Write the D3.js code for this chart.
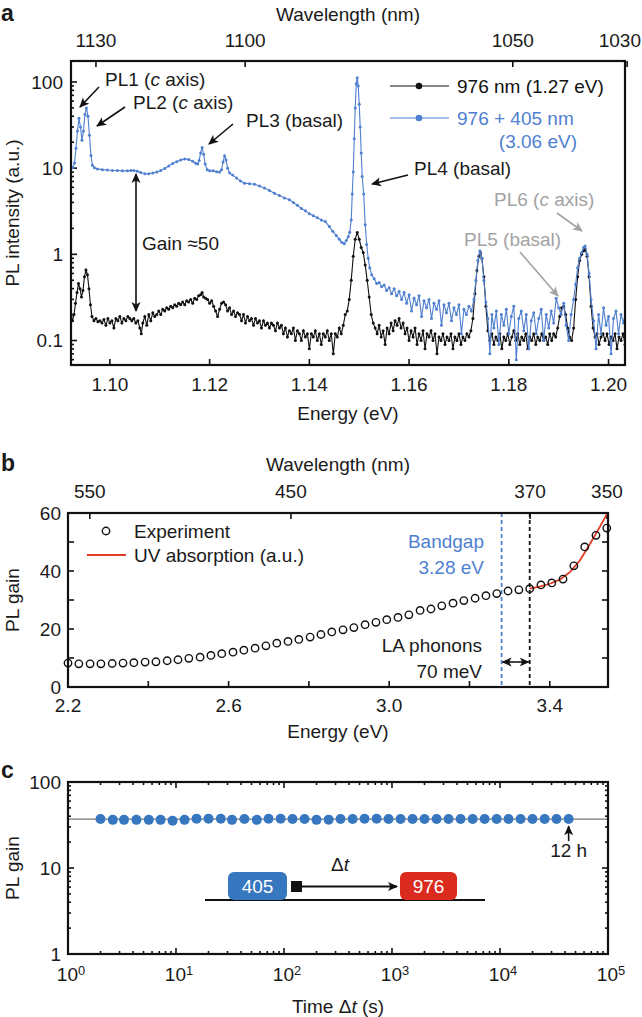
<!DOCTYPE html>
<html><head><meta charset="utf-8">
<script src="https://cdn.jsdelivr.net/npm/d3@7"></script>
<style>body{margin:0;background:#fff}svg{display:block}text{font-family:"Liberation Sans",Arial,Helvetica,sans-serif;fill:#1a1a1a}</style>
</head><body><svg id="chart" width="642" height="1017"></svg>
<script>
// ---------- Panel a data ----------
const blueSpec = [[1.0922,10.0],[1.0926,10.2],[1.0929,11.5],[1.0932,17],[1.0935,27],[1.0938,38],[1.0941,30],[1.0944,21],[1.0947,27],[1.0950,42],[1.0953,50],[1.0956,40],[1.0959,24],[1.0962,14],[1.0965,10.8],[1.0969,10.1],[1.0975,9.8],[1.0985,9.6],[1.0995,9.5],[1.1005,9.4],[1.1015,9.4],[1.1025,9.3],[1.1035,9.3],[1.1042,9.4],[1.1048,9.4],[1.1055,9.2],[1.1062,8.9],[1.1070,8.6],[1.1078,8.6],[1.1086,8.8],[1.1094,9.0],[1.1102,9.4],[1.1110,9.9],[1.1118,10.6],[1.1126,11.3],[1.1134,11.9],[1.1142,12.4],[1.1150,12.8],[1.1158,12.6],[1.1166,12.0],[1.1172,11.4],[1.1176,11.2],[1.1179,12.3],[1.1182,15],[1.1185,17.3],[1.1188,14.5],[1.1191,11.2],[1.1195,9.6],[1.1200,9.3],[1.1207,9.3],[1.1214,9.1],[1.1220,9.0],[1.1224,9.6],[1.1227,11.8],[1.1230,13.9],[1.1233,12.4],[1.1236,10],[1.1240,8.8],[1.1246,8.3],[1.1254,7.7],[1.1262,7.1],[1.1270,6.7],[1.1280,6.6],[1.1290,6.5],[1.1300,6.2],[1.1310,5.9],[1.1320,5.5],[1.1330,5.1],[1.1340,4.8],[1.1350,4.5],[1.1360,4.3],[1.1368,4.0],[1.1376,3.7],[1.1384,3.4],[1.1392,3.2],[1.1400,2.95],[1.1408,2.8],[1.1416,2.65],[1.1424,2.5],[1.1432,2.4],[1.1440,2.1],[1.1447,1.85],[1.1454,1.65],[1.1460,1.5],[1.1465,1.38],[1.1470,1.33],[1.1474,1.45],[1.1478,1.6],[1.1481,1.8],[1.1484,2.5],[1.1486,5],[1.1488,9],[1.1490,22],[1.1492,50],[1.1494,95],[1.1496,112],[1.1498,90],[1.1500,55],[1.1502,30],[1.1504,15],[1.1506,8],[1.1509,5],[1.1512,2.2],[1.1515,1.3],[1.1518,0.9],[1.1521,0.7],
[1.1525,0.58],[1.1530,0.52],[1.1535,0.46],[1.1540,0.47],[1.1545,0.42],[1.1550,0.44],[1.1555,0.38],[1.1560,0.41],[1.1565,0.35],[1.1570,0.40],[1.1575,0.33],[1.1580,0.37],[1.1585,0.30],[1.1590,0.36],[1.1595,0.27],[1.1600,0.34],[1.1605,0.22],[1.1610,0.31],[1.1615,0.26],[1.1620,0.33],[1.1625,0.19],[1.1630,0.29],[1.1635,0.24],[1.1640,0.30],[1.1645,0.18],[1.1650,0.27],[1.1655,0.23],[1.1660,0.29],[1.1665,0.15],[1.1670,0.26],[1.1675,0.21],[1.1680,0.27],[1.1685,0.17],[1.1690,0.24],[1.1695,0.20],[1.1700,0.26],[1.1705,0.12],[1.1710,0.23],[1.1715,0.20],[1.1720,0.25],[1.1725,0.22],[1.1730,0.3],[1.1734,0.5],[1.1738,0.85],[1.1742,1.1],[1.1746,0.9],[1.1750,0.5],[1.1754,0.28],[1.1758,0.18],[1.1762,0.07],[1.1766,0.2],[1.1770,0.14],[1.1775,0.22],[1.1780,0.09],[1.1785,0.2],[1.1790,0.15],[1.1795,0.23],[1.1800,0.12],[1.1805,0.19],[1.1810,0.25],[1.1815,0.06],[1.1820,0.18],[1.1825,0.22],[1.1830,0.13],[1.1835,0.2],[1.1840,0.08],[1.1845,0.17],[1.1850,0.21],[1.1855,0.12],[1.1860,0.18],[1.1865,0.23],[1.1870,0.1],[1.1875,0.2],[1.1880,0.14],[1.1885,0.22],[1.1890,0.16],[1.1895,0.31],[1.1900,0.24],[1.1905,0.2],[1.1910,0.27],[1.1915,0.15],[1.1920,0.1],[1.1925,0.2],[1.1930,0.3],[1.1934,0.45],[1.1938,0.7],[1.1942,0.9],[1.1946,1.05],[1.1950,1.2],[1.1953,1.25],[1.1957,1.0],[1.1961,0.6],[1.1965,0.3],[1.1970,0.17],[1.1975,0.08],[1.1980,0.2],[1.1985,0.12],[1.1990,0.24],[1.1995,0.15],[1.2000,0.19],[1.2005,0.07],[1.2010,0.18],[1.2015,0.22],[1.2020,0.12],[1.2025,0.2],[1.2030,0.16],[1.2035,0.24]];

const blackSpec = [[1.0922,0.19],[1.0925,0.17],[1.0928,0.2],[1.0931,0.27],[1.0934,0.36],[1.0937,0.46],[1.0940,0.40],[1.0943,0.32],[1.0946,0.38],[1.0949,0.55],[1.0952,0.66],[1.0955,0.58],[1.0958,0.4],[1.0961,0.26],[1.0964,0.19],[1.0968,0.17],[1.0972,0.18],[1.0976,0.165],[1.0980,0.17],[1.0984,0.16],[1.0988,0.175],[1.0992,0.15],[1.0996,0.18],[1.1000,0.16],[1.1004,0.17],[1.1008,0.14],[1.1012,0.18],[1.1016,0.17],[1.1020,0.19],[1.1024,0.16],[1.1028,0.18],[1.1032,0.17],[1.1036,0.19],[1.1040,0.18],[1.1044,0.17],[1.1048,0.18],[1.1052,0.16],[1.1056,0.17],[1.1060,0.14],[1.1063,0.12],[1.1066,0.16],[1.1070,0.19],[1.1074,0.15],[1.1078,0.2],[1.1082,0.17],[1.1086,0.21],[1.1090,0.19],[1.1094,0.2],[1.1098,0.22],[1.1102,0.2],[1.1106,0.23],[1.1110,0.22],[1.1114,0.24],[1.1118,0.23],[1.1122,0.25],[1.1126,0.24],[1.1130,0.26],[1.1134,0.25],[1.1138,0.27],[1.1142,0.26],[1.1146,0.28],[1.1150,0.26],[1.1154,0.29],[1.1158,0.28],[1.1162,0.3],[1.1166,0.27],[1.1170,0.31],[1.1174,0.3],[1.1178,0.33],[1.1182,0.34],[1.1185,0.36],[1.1188,0.32],[1.1192,0.31],[1.1196,0.3],[1.1200,0.27],[1.1204,0.29],[1.1208,0.25],[1.1212,0.22],[1.1216,0.19],[1.1220,0.23],[1.1224,0.27],[1.1228,0.28],[1.1232,0.26],[1.1236,0.22],[1.1240,0.24],[1.1244,0.2],[1.1248,0.22],[1.1252,0.19],[1.1256,0.21],[1.1260,0.2],[1.1264,0.17],[1.1268,0.2],[1.1272,0.16],[1.1276,0.19],[1.1280,0.17],[1.1284,0.18],[1.1288,0.15],[1.1292,0.18],[1.1296,0.16],[1.1300,0.17],[1.1304,0.14],[1.1308,0.17],[1.1312,0.15],[1.1316,0.16],[1.1320,0.14],[1.1324,0.16],[1.1328,0.15],[1.1332,0.13],[1.1336,0.16],[1.1340,0.14],[1.1344,0.15],[1.1348,0.12],[1.1352,0.14],[1.1356,0.11],[1.1360,0.13],[1.1364,0.12],[1.1368,0.14],[1.1372,0.1],[1.1376,0.13],[1.1380,0.12],[1.1384,0.1],[1.1388,0.13],[1.1392,0.11],[1.1396,0.12],[1.1400,0.08],[1.1404,0.12],[1.1408,0.11],[1.1412,0.13],[1.1416,0.1],[1.1420,0.12],[1.1424,0.09],[1.1428,0.12],[1.1432,0.11],[1.1436,0.13],[1.1440,0.1],[1.1444,0.12],[1.1448,0.07],[1.1452,0.12],[1.1456,0.11],[1.1460,0.14],[1.1464,0.12],[1.1468,0.15],[1.1472,0.2],[1.1476,0.22],[1.1480,0.3],[1.1484,0.5],[1.1488,0.95],[1.1492,1.5],[1.1496,1.79],[1.1500,1.5],[1.1504,1.2],[1.1508,1.05],[1.1512,0.75],[1.1516,0.5],[1.1520,0.32],[1.1524,0.2],[1.1528,0.16],[1.1532,0.14],[1.1536,0.12],[1.1540,0.15],[1.1544,0.11],[1.1548,0.13],[1.1552,0.09],[1.1556,0.14],[1.1560,0.12],[1.1564,0.16],[1.1568,0.13],[1.1572,0.17],[1.1576,0.15],[1.1580,0.18],[1.1584,0.14],[1.1588,0.16],[1.1592,0.12],[1.1596,0.14],[1.1600,0.1],[1.1604,0.13],[1.1608,0.11],[1.1612,0.14],[1.1616,0.09],[1.1620,0.12],[1.1624,0.1],[1.1628,0.13],[1.1632,0.08],[1.1636,0.12],[1.1640,0.11],[1.1644,0.13],[1.1648,0.1],[1.1652,0.12],[1.1656,0.07],[1.1660,0.11],[1.1664,0.1],[1.1668,0.12],[1.1672,0.09],[1.1676,0.11],[1.1680,0.1],[1.1684,0.12],[1.1688,0.08],[1.1692,0.11],[1.1696,0.1],[1.1700,0.12],[1.1704,0.09],[1.1708,0.11],[1.1712,0.1],[1.1716,0.12],[1.1720,0.11],[1.1724,0.13],[1.1728,0.18],[1.1732,0.35],[1.1736,0.65],[1.1740,0.95],[1.1743,1.05],[1.1746,0.9],[1.1750,0.55],[1.1754,0.25],[1.1758,0.13],[1.1762,0.1],[1.1766,0.12],[1.1770,0.09],[1.1774,0.11],[1.1778,0.1],[1.1782,0.12],[1.1786,0.08],[1.1790,0.11],[1.1794,0.1],[1.1798,0.12],[1.1802,0.09],[1.1806,0.11],[1.1810,0.13],[1.1814,0.1],[1.1818,0.12],[1.1822,0.09],[1.1826,0.11],[1.1830,0.1],[1.1834,0.12],[1.1838,0.08],[1.1842,0.11],[1.1846,0.1],[1.1850,0.12],[1.1854,0.09],[1.1858,0.11],[1.1862,0.1],[1.1866,0.12],[1.1870,0.1],[1.1874,0.11],[1.1878,0.09],[1.1882,0.12],[1.1886,0.1],[1.1890,0.12],[1.1894,0.11],[1.1898,0.14],[1.1902,0.19],[1.1906,0.24],[1.1910,0.25],[1.1914,0.2],[1.1918,0.14],[1.1922,0.11],[1.1926,0.1],[1.1930,0.14],[1.1934,0.3],[1.1938,0.55],[1.1942,0.85],[1.1946,1.0],[1.1950,1.1],[1.1953,1.15],[1.1957,0.95],[1.1961,0.55],[1.1965,0.25],[1.1969,0.14],[1.1973,0.11],[1.1977,0.12],[1.1981,0.09],[1.1985,0.11],[1.1989,0.12],[1.1993,0.1],[1.1997,0.12],[1.2001,0.09],[1.2005,0.11],[1.2009,0.1],[1.2013,0.12],[1.2017,0.08],[1.2021,0.11],[1.2025,0.1],[1.2029,0.12],[1.2033,0.09]];

const aEnergyTicks = [1.10, 1.12, 1.14, 1.16, 1.18, 1.20];
const aWaveTicks = [1130, 1100, 1050, 1030];
const aYTicks = [0.1, 1, 10, 100];
const aLegend = ["976 nm (1.27 eV)", "976 + 405 nm", "(3.06 eV)"];

// ---------- Panel b data ----------
const bEnergy = [2.200,2.227,2.255,2.282,2.310,2.337,2.364,2.392,2.419,2.447,2.474,2.501,2.529,2.556,2.583,2.611,2.638,2.666,2.693,2.720,2.748,2.775,2.803,2.830,2.857,2.885,2.912,2.940,2.967,2.994,3.022,3.049,3.077,3.104,3.131,3.159,3.186,3.214,3.241,3.268,3.296,3.323,3.350,3.378,3.405,3.433,3.460,3.487,3.515,3.542];
const bGain = [8.25,8.0,8.0,8.0,8.1,8.25,8.4,8.6,8.7,9.05,9.4,9.9,10.3,10.9,11.5,12.0,12.7,13.4,14.2,15.1,15.7,16.4,17.2,18.1,19.0,19.7,20.5,21.5,22.3,23.2,24.0,24.9,26.4,26.9,28.0,28.9,29.8,30.6,31.5,32.2,33.1,33.5,33.9,35.2,35.9,37.2,41.8,48.3,52.3,54.8];
const uvEnergy = [3.350,3.375,3.400,3.425,3.450,3.475,3.500,3.525,3.550];
const uvAbs = [33.9,34.6,35.6,37.0,39.6,43.6,49.3,55.3,61.5];
const bEnergyTicks = [2.2,2.4,2.6,2.8,3.0,3.2,3.4];
const bEnergyLabels = [2.2,2.6,3.0,3.4];
const bWaveTicks = [550,450,370,350];
const bYTicks = [0,10,20,30,40,50,60];
const bYLabels = [0,20,40,60];
const bandgapE = 3.28, edgeE = 3.35;

// ---------- Panel c data ----------
const cTime = [2,2.6,3.3,4.3,5.6,7.2,9.3,12,15.5,20,26,33,43,56,72,93,120,155,200,259,334,432,557,720,930,1200,1550,2000,2590,3340,4320,5580,7210,9310,12000,15500,20000,25900,33400,43200];
const cGain = [37.2,36.3,36.3,36.3,36.3,36.3,35.5,36.3,37.5,37.5,37.3,36.3,37.2,36.3,37.3,37.3,37.2,37.2,36.3,36.5,37.2,37.2,37.3,37.3,37.2,37.2,37.2,37.2,37.2,37.2,37.2,37.2,37.2,37.2,37.2,37.2,37.2,37.2,37.2,37.2];
const cLevel = 37;
const cXTicks = [0,1,2,3,4,5];
const cYTicks = [1,10,100];

// ---------- drawing ----------
const svg = d3.select("#chart");
const BLUE = "#4f7fcf", GREY = "#a3a3a3", FS = 19;
const hc = 1239.84;

const defs = svg.append("defs");
function mk(id, color){
  defs.append("marker").attr("id", id).attr("viewBox","0 0 10 10").attr("refX",9).attr("refY",5)
    .attr("markerWidth",10).attr("markerHeight",10).attr("markerUnits","userSpaceOnUse").attr("orient","auto-start-reverse")
    .append("path").attr("d","M0,0.5 L10,5 L0,9.5 L2.5,5 Z").attr("fill",color);
}
mk("ab","#111"); mk("ag",GREY);

function txt(g,x,y,s,opt={}){
  const t = g.append("text").attr("x",x).attr("y",y).attr("dy","0.35em")
    .attr("font-size",opt.fs||FS).attr("text-anchor",opt.anchor||"start");
  if(opt.fill) t.style("fill",opt.fill);
  if(opt.weight) t.attr("font-weight",opt.weight);
  if(Array.isArray(s)) s.forEach(p=>{ const ts=t.append("tspan").text(p.t); if(p.i) ts.attr("font-style","italic"); if(p.sup) ts.attr("dy","-0.45em").attr("font-size",(opt.fs||FS)*0.68);});
  else t.text(s);
  return t;
}
function arrow(g,x1,y1,x2,y2,color,both){
  const l = g.append("line").attr("x1",x1).attr("y1",y1).attr("x2",x2).attr("y2",y2)
    .attr("stroke",color==="g"?GREY:"#111").attr("stroke-width",1.6)
    .attr("marker-end", `url(#${color==="g"?"ag":"ab"})`);
  if(both) l.attr("marker-start", `url(#${color==="g"?"ag":"ab"})`);
}
function frame(x0,x1,y0,y1){
  svg.append("rect").attr("x",x0).attr("y",y0).attr("width",x1-x0).attr("height",y1-y0)
    .attr("fill","none").attr("stroke","#111").attr("stroke-width",2.2);
}
function ticksY(g, y, vals, x, len, dir){
  vals.forEach(v=>g.append("line").attr("x1",x).attr("x2",x+dir*len).attr("y1",y(v)).attr("y2",y(v)).attr("stroke","#111").attr("stroke-width",1.6));
}
function ticksX(g, x, vals, y, len, dir){
  vals.forEach(v=>g.append("line").attr("y1",y).attr("y2",y+dir*len).attr("x1",x(v)).attr("x2",x(v)).attr("stroke","#111").attr("stroke-width",1.6));
}
function logMinor(lo,hi){ const out=[]; for(let e=Math.floor(Math.log10(lo));e<=Math.ceil(Math.log10(hi));e++) for(let m=2;m<=9;m++){const v=m*Math.pow(10,e); if(v>lo&&v<hi) out.push(v);} return out; }
function keepInside(t){ const w=t.node().getComputedTextLength(); const x=+t.attr("x"); if(x+w/2>641) t.attr("x",641-w/2); }

// ===== Panel a =====
const A = {l:71, r:625, t:61, b:365};
const xA = d3.scaleLinear().domain([1.0922,1.2033]).range([A.l,A.r]);
const yA = d3.scaleLog().domain([0.052,175]).range([A.b,A.t]);
const ga = svg.append("g");
txt(ga,1,13,"a",{fs:23,weight:"bold"});
txt(ga,(A.l+A.r)/2,14,"Wavelength (nm)",{anchor:"middle"});
aWaveTicks.forEach(w=>keepInside(txt(ga,xA(hc/w),40,String(w),{anchor:"middle"})));
ticksX(ga, v=>xA(hc/v), aWaveTicks, A.t, 6, 1);
ticksX(ga, xA, aEnergyTicks, A.b, 6, -1);
aEnergyTicks.forEach(v=>txt(ga,xA(v),384,v.toFixed(2),{anchor:"middle"}));
txt(ga,(A.l+A.r)/2,413,"Energy (eV)",{anchor:"middle"});
ticksY(ga,yA,aYTicks,A.l,6,1);
ticksY(ga,yA,logMinor(0.052,175),A.l,3,1);
aYTicks.forEach(v=>txt(ga,A.l-8,yA(v),String(v),{anchor:"end"}));
txt(ga,0,0,"PL intensity (a.u.)",{anchor:"middle"}).attr("transform",`translate(12,${(A.t+A.b)/2}) rotate(-90)`);

defs.append("clipPath").attr("id","clipA").append("rect").attr("x",A.l).attr("y",A.t).attr("width",A.r-A.l).attr("height",A.b-A.t);
const plotA = ga.append("g").attr("clip-path","url(#clipA)");
const lineA = d3.line().x(d=>xA(d[0])).y(d=>yA(d[1]));
[[blackSpec,"#111"],[blueSpec,BLUE]].forEach(([data,col])=>{
  plotA.append("path").attr("d",lineA(data)).attr("fill","none").attr("stroke",col).attr("stroke-width",1.1);
  plotA.selectAll(null).data(data).enter().append("circle").attr("cx",d=>xA(d[0])).attr("cy",d=>yA(d[1])).attr("r",1.5).attr("fill",col);
});
frame(A.l,A.r,A.t,A.b);

// legend a
[[86,"#111",aLegend[0]],[118,BLUE,aLegend[1]]].forEach(([y,c,s])=>{
  ga.append("line").attr("x1",390).attr("x2",449).attr("y1",y).attr("y2",y).attr("stroke",c).attr("stroke-width",1.2);
  ga.append("circle").attr("cx",419).attr("cy",y).attr("r",3.3).attr("fill",c);
  txt(ga,457,y,s,{fill:c});
});
txt(ga,577,141,aLegend[2],{fill:BLUE,anchor:"end"});

// annotations a
txt(ga,105,79,[{t:"PL1 ("},{t:"c",i:1},{t:" axis)"}]);
arrow(ga,99,87,80,107);
txt(ga,133,102,[{t:"PL2 ("},{t:"c",i:1},{t:" axis)"}]);
arrow(ga,125,107,97,126);
txt(ga,246,120,"PL3 (basal)");
arrow(ga,233,124,209,144);
txt(ga,414,168,"PL4 (basal)");
arrow(ga,408,175,372,184);
txt(ga,142,243,"Gain ≈50");
arrow(ga,136,243,136,174); arrow(ga,136,243,136,311);
txt(ga,494,199,[{t:"PL6 ("},{t:"c",i:1},{t:" axis)"}],{fill:GREY});
arrow(ga,557,213,582,231,"g");
txt(ga,464,239,"PL5 (basal)",{fill:GREY});
arrow(ga,520,252,558,296,"g");

// ===== Panel b =====
const B = {l:68, r:608, t:513, b:687};
const xB = d3.scaleLinear().domain([2.2,3.545]).range([B.l,B.r]);
const yB = d3.scaleLinear().domain([0,60]).range([B.b,B.t]);
const gb = svg.append("g");
txt(gb,1,463,"b",{fs:23,weight:"bold"});
txt(gb,(B.l+B.r)/2,464,"Wavelength (nm)",{anchor:"middle"});
bWaveTicks.forEach(w=>txt(gb,xB(hc/w),491,String(w),{anchor:"middle"}));
ticksX(gb, v=>xB(hc/v), bWaveTicks, B.t, 6, 1);
ticksX(gb, xB, bEnergyTicks, B.b, 6, -1);
bEnergyLabels.forEach(v=>txt(gb,xB(v),705,v.toFixed(1),{anchor:"middle"}));
txt(gb,(B.l+B.r)/2,731,"Energy (eV)",{anchor:"middle"});
ticksY(gb,yB,bYTicks,B.l,6,1);
ticksY(gb,yB,bYTicks,B.r,6,-1);
bYLabels.forEach(v=>txt(gb,B.l-7,yB(v),String(v),{anchor:"end"}));
txt(gb,0,0,"PL gain",{anchor:"middle"}).attr("transform",`translate(12,${(B.t+B.b)/2}) rotate(-90)`);
defs.append("clipPath").attr("id","clipB").append("rect").attr("x",B.l).attr("y",B.t).attr("width",B.r-B.l).attr("height",B.b-B.t);
gb.append("line").attr("x1",xB(bandgapE)).attr("x2",xB(bandgapE)).attr("y1",B.t).attr("y2",B.b).attr("stroke",BLUE).attr("stroke-width",1.8).attr("stroke-dasharray","4,3");
gb.append("line").attr("x1",xB(edgeE)).attr("x2",xB(edgeE)).attr("y1",B.t).attr("y2",B.b).attr("stroke","#111").attr("stroke-width",1.8).attr("stroke-dasharray","4,3");
gb.append("path").attr("clip-path","url(#clipB)").attr("d",d3.line().x((d,i)=>xB(uvEnergy[i])).y(d=>yB(d))(uvAbs)).attr("fill","none").attr("stroke","#e03a22").attr("stroke-width",1.8);
gb.selectAll(null).data(bGain).enter().append("circle").attr("cx",(d,i)=>xB(bEnergy[i])).attr("cy",d=>yB(d)).attr("r",3.7).attr("fill","none").attr("stroke","#111").attr("stroke-width",1.4);
frame(B.l,B.r,B.t,B.b);
gb.append("circle").attr("cx",106).attr("cy",531).attr("r",3.7).attr("fill","none").attr("stroke","#111").attr("stroke-width",1.4);
txt(gb,134,531,"Experiment");
gb.append("line").attr("x1",87).attr("x2",126).attr("y1",555).attr("y2",555).attr("stroke","#e03a22").attr("stroke-width",1.8);
txt(gb,134,555,"UV absorption (a.u.)");
txt(gb,484,541,"Bandgap",{anchor:"end",fill:BLUE});
txt(gb,484,567,"3.28 eV",{anchor:"end",fill:BLUE});
txt(gb,482,645,"LA phonons",{anchor:"end"});
txt(gb,482,671,"70 meV",{anchor:"end"});
arrow(gb,(xB(bandgapE)+xB(edgeE))/2,662,xB(bandgapE)+1,662,"k");
arrow(gb,(xB(bandgapE)+xB(edgeE))/2,662,xB(edgeE)-1,662,"k");

// ===== Panel c =====
const C = {l:68, r:608, t:782, b:954};
const xC = d3.scaleLog().domain([1,1e5]).range([C.l,C.r]);
const yC = d3.scaleLog().domain([1,100]).range([C.b,C.t]);
const gc = svg.append("g");
txt(gc,1,770,"c",{fs:23,weight:"bold"});
const xMaj = cXTicks.map(e=>Math.pow(10,e));
ticksX(gc,xC,xMaj,C.b,6,-1); ticksX(gc,xC,xMaj,C.t,6,1);
ticksX(gc,xC,logMinor(1,1e5),C.b,3,-1); ticksX(gc,xC,logMinor(1,1e5),C.t,3,1);
ticksY(gc,yC,cYTicks,C.l,6,1); ticksY(gc,yC,cYTicks,C.r,6,-1);
ticksY(gc,yC,logMinor(1,100),C.l,3,1); ticksY(gc,yC,logMinor(1,100),C.r,3,-1);
cXTicks.forEach(e=>txt(gc,xC(Math.pow(10,e))+3,974,[{t:"10"},{t:String(e),sup:1}],{anchor:"middle"}));
cYTicks.forEach(v=>txt(gc,C.l-7,yC(v),String(v),{anchor:"end"}));
txt(gc,(C.l+C.r)/2,1006,[{t:"Time Δ"},{t:"t",i:1},{t:" (s)"}],{anchor:"middle"});
txt(gc,0,0,"PL gain",{anchor:"middle"}).attr("transform",`translate(12,${(C.t+C.b)/2}) rotate(-90)`);
gc.append("line").attr("x1",C.l).attr("x2",C.r).attr("y1",yC(cLevel)).attr("y2",yC(cLevel)).attr("stroke","#777").attr("stroke-width",1.2);
gc.selectAll(null).data(cGain).enter().append("circle").attr("cx",(d,i)=>xC(cTime[i])).attr("cy",d=>yC(d)).attr("r",5).attr("fill","#3677bf");
frame(C.l,C.r,C.t,C.b);
const lastX = xC(cTime[cTime.length-1]);
arrow(gc,lastX,yC(cLevel)+22,lastX,yC(cLevel)+7);
txt(gc,lastX,850,"12 h",{anchor:"middle"});
// inset schematic
gc.append("line").attr("x1",205).attr("x2",485).attr("y1",900).attr("y2",900).attr("stroke","#111").attr("stroke-width",2);
gc.append("rect").attr("x",228).attr("y",872).attr("width",59).attr("height",28).attr("rx",6).attr("fill","#3677bf");
txt(gc,257.5,886,"405",{anchor:"middle",fill:"#fff"});
gc.append("rect").attr("x",291).attr("y",881).attr("width",11).attr("height",11).attr("fill","#111");
gc.append("line").attr("x1",302).attr("x2",397).attr("y1",886.5).attr("y2",886.5).attr("stroke","#111").attr("stroke-width",2).attr("marker-end","url(#ab)");
txt(gc,340,864,[{t:"Δ"},{t:"t",i:1}],{anchor:"middle"});
gc.append("rect").attr("x",400).attr("y",872).attr("width",57).attr("height",28).attr("rx",6).attr("fill","#db2a1e");
txt(gc,428.5,886,"976",{anchor:"middle",fill:"#fff"});
</script></body></html>
